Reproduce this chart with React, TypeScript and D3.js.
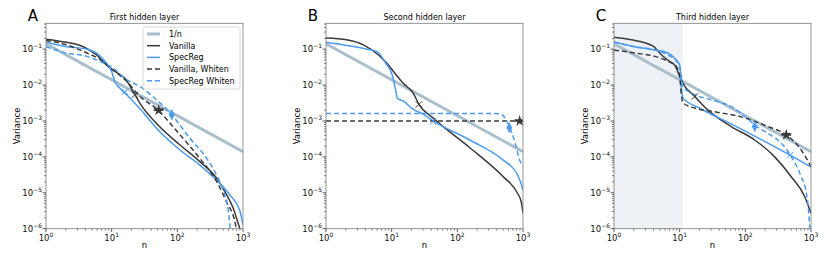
import React from 'react';
import * as d3 from 'd3';

type Pt = [number, number];

// n, variance pairs
const oneOverN: Pt[] = [[1, 0.14], [1000, 0.00014]];

const aVanilla: Pt[] = [[1, 0.19], [2.06, 0.155], [3.7, 0.117], [5.9, 0.069], [8.4, 0.036], [11.2, 0.024], [15.9, 0.0155], [22.6, 0.0054], [27, 0.0031], [54, 0.00069], [110, 0.000214], [220, 7.4e-5], [400, 2.5e-5], [530, 1.07e-5], [710, 3.7e-6], [890, 1.05e-6], [1000, 6e-7]];
const aSpecReg: Pt[] = [[1, 0.155], [2.06, 0.117], [4.2, 0.1], [5.9, 0.078], [7.9, 0.046], [10, 0.024], [11.2, 0.0126], [13.4, 0.0081], [16.9, 0.0054], [27, 0.0022], [54, 0.0005], [110, 0.000155], [220, 5.9e-5], [400, 2.2e-5], [630, 8.7e-6], [890, 3.3e-6], [1000, 1.26e-6]];
const aVanillaW: Pt[] = [[1, 0.174], [2.06, 0.132], [4.2, 0.078], [6.6, 0.052], [10.6, 0.026], [17, 0.0126], [27, 0.0048], [48, 0.0022], [110, 0.00041], [220, 9.1e-5], [400, 2e-5], [560, 5.6e-6], [750, 1.6e-6], [850, 5e-7]];
const aSpecRegW: Pt[] = [[1, 0.117], [2.06, 0.078], [4.2, 0.063], [6.6, 0.046], [10.6, 0.0295], [17, 0.0141], [27, 0.0091], [48, 0.0039], [82, 0.0015], [155, 0.00033], [280, 9.1e-5], [420, 2.5e-5], [530, 8.7e-6], [600, 2.95e-6], [660, 5e-7]];

const bVanilla: Pt[] = [[1, 0.204], [2.06, 0.182], [3.7, 0.132], [6.3, 0.069], [8.4, 0.041], [11.2, 0.0214], [15, 0.0112], [21.4, 0.0059], [26, 0.0029], [43, 0.0012], [155, 0.00018], [500, 2.8e-5], [800, 1.07e-5], [940, 5.6e-6], [1000, 2.7e-6]];
const bSpecReg: Pt[] = [[1, 0.155], [2.06, 0.126], [4.2, 0.1], [6, 0.085], [8.1, 0.041], [10.2, 0.019], [11.5, 0.0072], [12.2, 0.0043], [15.4, 0.0035], [20.6, 0.0022], [31, 0.0015], [44, 0.00098], [155, 0.000295], [500, 8.1e-5], [800, 3.5e-5], [890, 2.3e-5], [1000, 1.2e-5]];
const bVanillaW: Pt[] = [[1, 0.001], [1000, 0.001]];
const bSpecRegW: Pt[] = [[1, 0.00162], [100, 0.00162], [445, 0.0016], [590, 0.00085], [760, 0.00024], [890, 8.1e-5], [1000, 5.5e-5]];

const cVanilla: Pt[] = [[1, 0.214], [1.84, 0.182], [3.9, 0.123], [5.3, 0.069], [7, 0.046], [8.4, 0.036], [10, 0.0174], [11.2, 0.0112], [17, 0.0048], [27, 0.002], [61, 0.0007], [139, 0.000295], [280, 0.0001], [500, 2.8e-5], [800, 7.9e-6], [1000, 2.7e-6]];
const cSpecReg: Pt[] = [[1, 0.158], [2.06, 0.117], [4.2, 0.095], [6.6, 0.078], [8.9, 0.05], [10, 0.036], [10.6, 0.0091], [11.2, 0.0044], [20, 0.0023], [65, 0.00078], [151, 0.00035], [480, 0.000112], [1000, 5.2e-5]];
const cVanillaW: Pt[] = [[1, 0.095], [2.06, 0.078], [4.2, 0.063], [6.6, 0.046], [8.9, 0.033], [10, 0.0174], [10.6, 0.0054], [11.2, 0.0032], [17, 0.0023], [34, 0.0018], [87, 0.0013], [220, 0.0007], [420, 0.00041], [710, 0.000155], [1000, 5.4e-5]];
const cSpecRegW: Pt[] = [[1, 0.158], [2.06, 0.117], [4.2, 0.095], [6.6, 0.069], [8.9, 0.046], [10, 0.033], [10.6, 0.0174], [11.2, 0.0091], [17, 0.0054], [30, 0.0039], [61, 0.0025], [139, 0.00078], [500, 0.000102], [710, 2.8e-5], [850, 9.8e-6], [925, 2.7e-6], [960, 1e-6]];

// effective-dimension markers: [n, variance]
const aMarks = { vanilla: [22.6, 0.0054] as Pt, specReg: [16, 0.0065] as Pt, vanillaW: [52, 0.002] as Pt, specRegW: [82, 0.0015] as Pt };
const bMarks = { vanilla: [26, 0.0029] as Pt, specReg: [43, 0.00098] as Pt, vanillaW: [890, 0.001] as Pt, specRegW: [620, 0.00065] as Pt };
const cMarks = { vanilla: [17, 0.0048] as Pt, specReg: [480, 0.000112] as Pt, vanillaW: [420, 0.00041] as Pt, specRegW: [139, 0.0007] as Pt };

const panelTitles = ['First hidden layer', 'Second hidden layer', 'Third hidden layer'];
const panelLetters = ['A', 'B', 'C'];
const seriesNames = ['1/n', 'Vanilla', 'SpecReg', 'Vanilla, Whiten', 'SpecReg Whiten'];
const xTicks = [1, 10, 100, 1000];
const yTicks = [1e-6, 1e-5, 1e-4, 1e-3, 1e-2, 1e-1];
const shadeC: Pt = [1, 11.1];

const BLUE = '#4b9bee';
const DARK = '#3a3a3a';
const GREY = '#a9bfcb';
const FONT = 'DejaVu Sans, sans-serif';

const styles = [
  { stroke: GREY, width: 3, dash: '' },
  { stroke: DARK, width: 1.5, dash: '' },
  { stroke: BLUE, width: 1.5, dash: '' },
  { stroke: DARK, width: 1.5, dash: '5,3' },
  { stroke: BLUE, width: 1.5, dash: '5,3' },
];

const TOP = 23.3;
const BOTTOM = 228.7;
const W = 197;

const Pow = ({ x, y, exp, anchor }: { x: number; y: number; exp: number; anchor: string }) => (
  <text x={x} y={y} fontSize={8.5} fontFamily={FONT} textAnchor={anchor} fill="#111">
    10<tspan dy={-4} fontSize={6}>{exp < 0 ? '\u2212' + Math.abs(exp) : exp}</tspan>
  </text>
);

const Panel = ({ idx, left, series, marks, shade, legend }: any) => {
  const x = d3.scaleLog().domain([1, 1000]).range([left, left + W]);
  const y = d3.scaleLog().domain([1e-6, Math.pow(10, -0.28)]).range([BOTTOM, TOP]);
  const line = d3.line<Pt>().x(d => x(d[0])).y(d => y(d[1])).curve(d3.curveMonotoneX);
  const clipId = 'clip' + idx;

  const minorX: number[] = [];
  [1, 10, 100].forEach(b => { for (let k = 2; k <= 9; k++) minorX.push(b * k); });
  const minorY: number[] = [];
  yTicks.forEach(b => { for (let k = 2; k <= 9; k++) if (b * k < Math.pow(10, -0.28)) minorY.push(b * k); });

  const cross = d3.symbol().type(d3.symbolTimes).size(28)();
  const diamond = d3.symbol().type(d3.symbolDiamond).size(30)();
  const star = d3.symbol().type(d3.symbolStar).size(40)();

  return (
    <g>
      <defs>
        <clipPath id={clipId}><rect x={left} y={TOP} width={W} height={BOTTOM - TOP} /></clipPath>
      </defs>
      {shade && <rect x={x(shade[0])} y={TOP} width={x(shade[1]) - x(shade[0])} height={BOTTOM - TOP} fill="#eef2f6" />}
      <g clipPath={`url(#${clipId})`}>
        {series.map((s: Pt[], i: number) => (
          <path key={i} d={line(s) || ''} fill="none" stroke={styles[i].stroke} strokeWidth={styles[i].width} strokeDasharray={styles[i].dash} />
        ))}
        <path d={cross} transform={`translate(${x(marks.vanilla[0])},${y(marks.vanilla[1])})`} stroke={DARK} strokeWidth={1} fill="none" />
        <path d={cross} transform={`translate(${x(marks.specReg[0])},${y(marks.specReg[1])})`} stroke={BLUE} strokeWidth={1} fill="none" />
        <line x1={x(marks.vanillaW[0]) - 5} x2={x(marks.vanillaW[0]) + 5} y1={y(marks.vanillaW[1])} y2={y(marks.vanillaW[1])} stroke={DARK} strokeWidth={1.5} />
        <path d={star} transform={`translate(${x(marks.vanillaW[0])},${y(marks.vanillaW[1])})`} fill={DARK} />
        <line x1={x(marks.specRegW[0])} x2={x(marks.specRegW[0])} y1={y(marks.specRegW[1]) - 5} y2={y(marks.specRegW[1]) + 5} stroke={BLUE} strokeWidth={1.5} />
        <path d={diamond} transform={`translate(${x(marks.specRegW[0])},${y(marks.specRegW[1])})`} fill={BLUE} />
      </g>
      <rect x={left} y={TOP} width={W} height={BOTTOM - TOP} fill="none" stroke="#7a7a7a" strokeWidth={0.8} />
      {xTicks.map(t => (
        <g key={t}>
          <line x1={x(t)} x2={x(t)} y1={BOTTOM} y2={BOTTOM + 3.5} stroke="#333" strokeWidth={0.8} />
          <Pow x={x(t)} y={BOTTOM + 12} exp={Math.round(Math.log10(t))} anchor="middle" />
        </g>
      ))}
      {minorX.map(t => <line key={t} x1={x(t)} x2={x(t)} y1={BOTTOM} y2={BOTTOM + 2} stroke="#333" strokeWidth={0.6} />)}
      {yTicks.map(t => (
        <g key={t}>
          <line x1={left} x2={left - 3.5} y1={y(t)} y2={y(t)} stroke="#333" strokeWidth={0.8} />
          <Pow x={left - 4} y={y(t) + 3} exp={Math.round(Math.log10(t))} anchor="end" />
        </g>
      ))}
      {minorY.map(t => <line key={t} x1={left} x2={left - 2} y1={y(t)} y2={y(t)} stroke="#333" strokeWidth={0.6} />)}
      <text x={left + W / 2} y={248} fontSize={8.5} fontFamily={FONT} textAnchor="middle">n</text>
      <text transform={`translate(${left - 26},${(TOP + BOTTOM) / 2}) rotate(-90)`} fontSize={8.5} fontFamily={FONT} textAnchor="middle">Variance</text>
      <text x={left + W / 2} y={20} fontSize={8} fontFamily={FONT} textAnchor="middle">{panelTitles[idx]}</text>
      <text x={left - 13} y={21} fontSize={15} fontFamily={FONT} textAnchor="middle">{panelLetters[idx]}</text>
      {legend && (
        <g>
          <rect x={left + 97} y={27} width={97} height={62} rx={2} fill="white" fillOpacity={0.85} stroke="#d0d0d0" strokeWidth={0.8} />
          {seriesNames.map((name, i) => (
            <g key={name} transform={`translate(${left + 101},${34 + i * 11.7})`}>
              <line x1={0} x2={13} y1={0} y2={0} stroke={styles[i].stroke} strokeWidth={styles[i].width} strokeDasharray={styles[i].dash} />
              <text x={22} y={3} fontSize={8} fontFamily={FONT}>{name}</text>
            </g>
          ))}
        </g>
      )}
    </g>
  );
};

export default function App() {
  return (
    <svg width={830} height={255} style={{ position: 'absolute', left: 0, top: 0, background: 'white' }}>
      <Panel idx={0} left={46} series={[oneOverN, aVanilla, aSpecReg, aVanillaW, aSpecRegW]} marks={aMarks} legend />
      <Panel idx={1} left={326} series={[oneOverN, bVanilla, bSpecReg, bVanillaW, bSpecRegW]} marks={bMarks} />
      <Panel idx={2} left={614} series={[oneOverN, cVanilla, cSpecReg, cVanillaW, cSpecRegW]} marks={cMarks} shade={shadeC} />
    </svg>
  );
}
